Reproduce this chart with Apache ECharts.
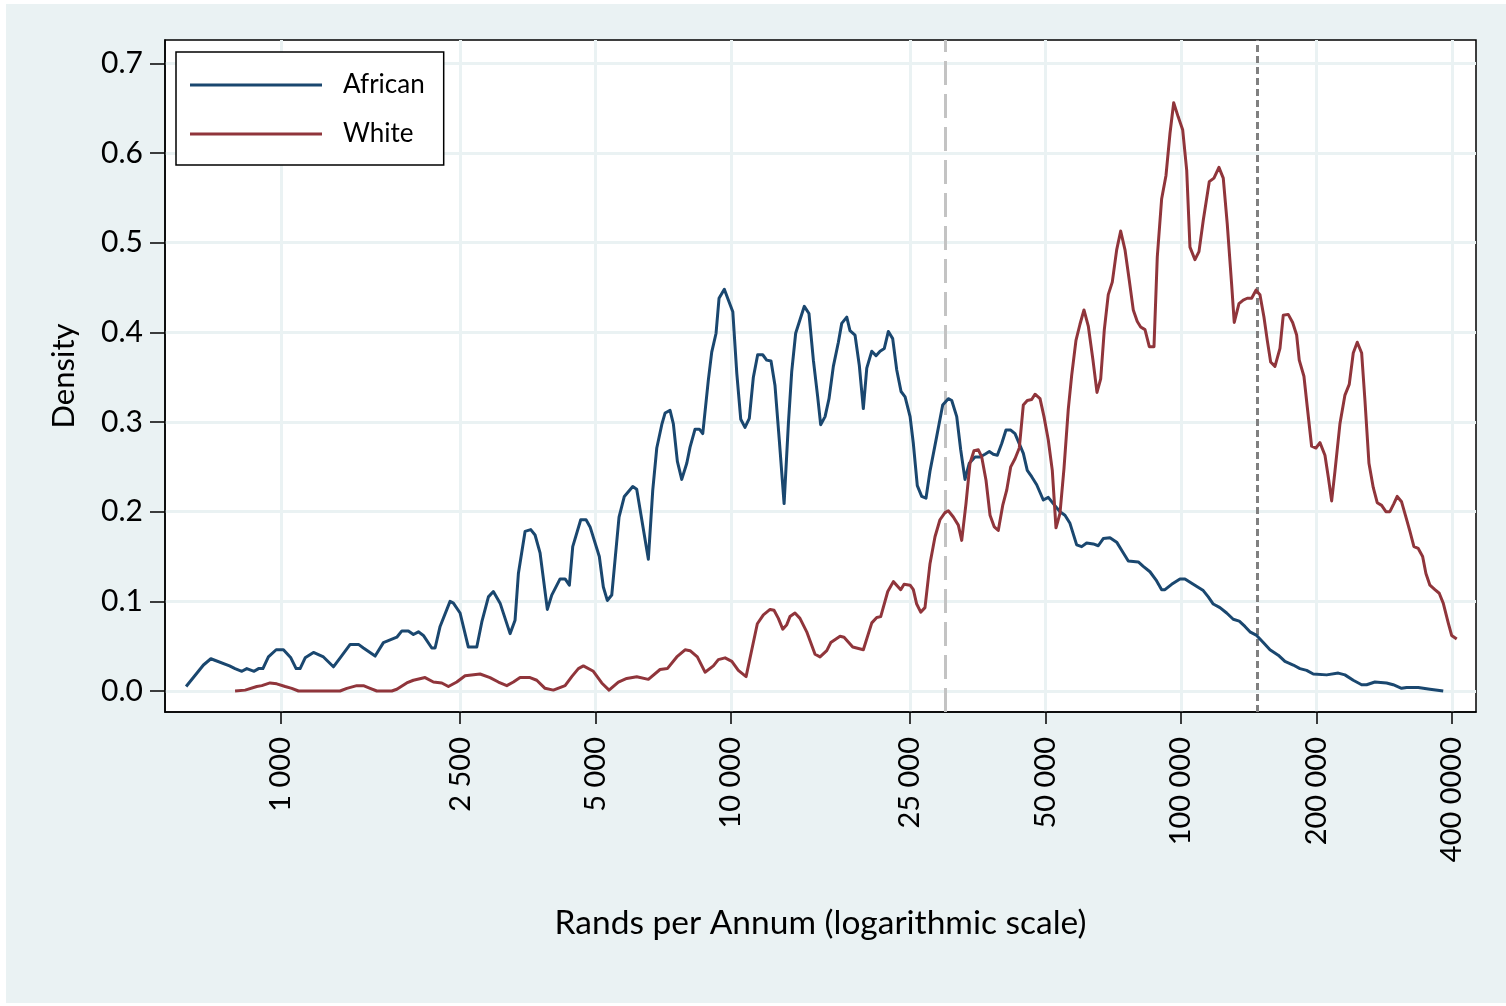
<!DOCTYPE html>
<html>
<head>
<meta charset="utf-8">
<title>Income density by population group</title>
<script src="https://cdn.jsdelivr.net/npm/echarts@6/dist/echarts.min.js"></script>
<style>
  html, body { margin: 0; padding: 0; background: #fff; }
  #chart { width: 1506px; height: 1006px; }
</style>
</head>
<body>
<div id="chart"></div>
<script>
// x axis ticks (rands, log scale) and their printed labels
const incomeTicks = [1000, 2500, 5000, 10000, 25000, 50000, 100000, 200000, 400000];
const incomeLabels = ['1 000', '2 500', '5 000', '10 000', '25 000', '50 000', '100 000', '200 000', '400 0000'];
const densityTicks = [0, 0.1, 0.2, 0.3, 0.4, 0.5, 0.6, 0.7];

// vertical reference lines (rands)
const refLines = [30000, 148000];

// [income, density]
const african = [
  [615,0.005],[672,0.029],[698,0.036],[768,0.028],[790,0.025],[818,0.022],[839,0.025],[871,0.022],
  [891,0.025],[911,0.025],[937,0.038],[975,0.046],[1012,0.046],[1051,0.037],[1080,0.025],[1102,0.025],
  [1131,0.037],[1180,0.043],[1242,0.038],[1307,0.027],[1358,0.038],[1424,0.052],[1486,0.052],[1524,0.048],
  [1618,0.039],[1688,0.054],[1747,0.057],[1808,0.060],[1855,0.067],[1918,0.067],[1968,0.063],[2019,0.066],
  [2071,0.062],[2162,0.048],[2199,0.048],[2256,0.072],[2374,0.100],[2415,0.098],[2499,0.087],[2607,0.049],
  [2722,0.049],[2793,0.077],[2889,0.105],[2963,0.111],[3067,0.098],[3228,0.064],[3311,0.079],[3368,0.131],
  [3485,0.178],[3588,0.180],[3668,0.174],[3763,0.154],[3906,0.091],[3995,0.107],[4169,0.125],[4277,0.125],
  [4372,0.118],[4448,0.161],[4634,0.191],[4762,0.191],[4861,0.183],[5096,0.150],[5202,0.116],[5309,0.101],
  [5431,0.107],[5637,0.194],[5792,0.217],[6047,0.228],[6171,0.225],[6550,0.147],[6699,0.224],[6838,0.271],
  [7015,0.297],[7134,0.310],[7319,0.313],[7444,0.298],[7598,0.256],[7770,0.236],[7973,0.254],[8108,0.272],
  [8318,0.292],[8504,0.292],[8652,0.287],[8904,0.347],[9059,0.378],[9262,0.399],[9404,0.438],[9662,0.448],
  [9863,0.436],[10090,0.423],[10300,0.354],[10510,0.303],[10740,0.294],[10980,0.304],[11210,0.350],[11460,0.375],
  [11760,0.375],[12000,0.369],[12270,0.368],[12520,0.341],[12800,0.280],[13120,0.209],[13410,0.298],[13640,0.356],
  [13920,0.399],[14230,0.414],[14550,0.429],[14900,0.421],[15240,0.369],[15580,0.328],[15820,0.297],[16180,0.306],
  [16510,0.326],[16880,0.362],[17320,0.389],[17620,0.410],[18080,0.417],[18380,0.402],[18860,0.397],[19280,0.363],
  [19680,0.315],[20030,0.360],[20550,0.379],[21000,0.374],[21440,0.379],[21910,0.382],[22370,0.401],[22870,0.393],
  [23350,0.358],[23870,0.334],[24370,0.328],[25000,0.306],[25420,0.276],[25940,0.229],[26530,0.217],[27120,0.215],
  [27680,0.245],[28650,0.284],[29540,0.319],[30400,0.326],[30940,0.324],[31740,0.306],[32390,0.269],[33110,0.236],
  [33850,0.254],[34850,0.261],[35750,0.261],[36680,0.264],[37500,0.267],[38270,0.264],[39070,0.263],[39960,0.276],
  [40840,0.291],[41840,0.291],[42770,0.287],[43870,0.274],[44630,0.265],[45540,0.246],[46580,0.239],[47790,0.230],
  [49430,0.213],[50710,0.216],[52020,0.209],[53840,0.200],[55230,0.196],[56660,0.187],[58640,0.163],[60160,0.161],
  [61710,0.165],[63840,0.164],[65490,0.162],[67190,0.170],[69540,0.171],[71960,0.166],[73820,0.157],[76370,0.145],
  [80370,0.144],[82450,0.139],[85320,0.133],[87980,0.124],[90590,0.113],[92130,0.113],[95340,0.119],[99490,0.125],
  [102070,0.125],[106490,0.119],[112090,0.112],[115000,0.105],[117970,0.097],[122080,0.093],[126340,0.087],[130670,0.080],
  [134760,0.078],[138730,0.072],[142330,0.066],[147290,0.062],[152380,0.054],[157690,0.046],[164510,0.040],[170240,0.033],
  [177650,0.029],[183830,0.025],[190240,0.023],[196790,0.019],[210810,0.018],[223680,0.020],[231440,0.018],[241500,0.012],
  [252080,0.007],[258600,0.007],[269790,0.010],[286410,0.009],[296260,0.007],[309250,0.003],[317320,0.004],[336770,0.004],
  [357520,0.002],[382720,0.000]
];

const white = [
  [790,0.000],[832,0.001],[883,0.005],[906,0.006],[945,0.009],[978,0.008],[1021,0.005],[1056,0.003],
  [1093,0.000],[1160,0.000],[1352,0.000],[1400,0.003],[1473,0.006],[1524,0.006],[1577,0.003],[1632,0.000],
  [1762,0.000],[1808,0.002],[1902,0.009],[1968,0.012],[2089,0.015],[2180,0.010],[2276,0.009],[2354,0.005],
  [2457,0.010],[2564,0.017],[2768,0.019],[2913,0.015],[3040,0.010],[3174,0.006],[3283,0.010],[3397,0.015],
  [3575,0.015],[3700,0.012],[3860,0.003],[4028,0.001],[4277,0.006],[4426,0.016],[4578,0.025],[4697,0.028],
  [4943,0.022],[5160,0.009],[5356,0.001],[5618,0.010],[5864,0.014],[6171,0.016],[6550,0.013],[6954,0.024],
  [7218,0.025],[7574,0.038],[7903,0.046],[8108,0.045],[8416,0.038],[8754,0.021],[9135,0.028],[9371,0.035],
  [9699,0.037],[10040,0.033],[10380,0.023],[10800,0.016],[11120,0.046],[11440,0.075],[11800,0.085],[12210,0.091],
  [12460,0.090],[12740,0.081],[13030,0.069],[13300,0.074],[13520,0.083],[13870,0.087],[14230,0.081],[14730,0.066],
  [15370,0.041],[15770,0.038],[16320,0.045],[16660,0.054],[17470,0.061],[17830,0.060],[18640,0.049],[19680,0.046],
  [20550,0.076],[21080,0.082],[21510,0.083],[22300,0.111],[22950,0.122],[23830,0.113],[24240,0.119],[25000,0.118],
  [25420,0.113],[25860,0.097],[26400,0.088],[26980,0.093],[27680,0.142],[28400,0.172],[29130,0.191],[29890,0.199],
  [30400,0.201],[31190,0.194],[32000,0.185],[32560,0.168],[33280,0.209],[33970,0.254],[34670,0.268],[35450,0.269],
  [36070,0.261],[36870,0.235],[37640,0.196],[38470,0.183],[39260,0.179],[40160,0.207],[40990,0.224],[41840,0.250],
  [42770,0.259],[43720,0.271],[44630,0.319],[45540,0.324],[46580,0.325],[47380,0.331],[48610,0.326],[49610,0.306],
  [50710,0.280],[51760,0.246],[52750,0.182],[53840,0.198],[54950,0.248],[56170,0.314],[57160,0.352],[58430,0.391],
  [59640,0.409],[60870,0.425],[62230,0.407],[63740,0.369],[65060,0.333],[66310,0.348],[67550,0.403],[68930,0.442],
  [70360,0.456],[71960,0.492],[73450,0.513],[75090,0.492],[76750,0.458],[78340,0.425],[79960,0.412],[81360,0.406],
  [83180,0.403],[85040,0.384],[87100,0.384],[88580,0.484],[90590,0.549],[92620,0.575],[94540,0.622],[96340,0.656],
  [98630,0.640],[100870,0.626],[102970,0.581],[104710,0.495],[107420,0.481],[109650,0.490],[112090,0.525],[115580,0.568],
  [118380,0.572],[121440,0.584],[124160,0.572],[126720,0.521],[129620,0.453],[131340,0.411],[134550,0.432],[137530,0.436],
  [140370,0.438],[143570,0.438],[146780,0.447],[149810,0.442],[152900,0.417],[155530,0.391],[158240,0.367],[161770,0.362],
  [165960,0.382],[168770,0.419],[173130,0.420],[177080,0.411],[180750,0.397],[183180,0.369],[187620,0.351],[190830,0.317],
  [195140,0.273],[199530,0.271],[203660,0.277],[208930,0.263],[212480,0.239],[216220,0.212],[219890,0.245],[225580,0.298],
  [231440,0.330],[236590,0.342],[241500,0.377],[246500,0.389],[252080,0.377],[256390,0.324],[261690,0.254],[267490,0.227],
  [273020,0.210],[279250,0.207],[285400,0.200],[291260,0.200],[297290,0.209],[302390,0.217],[309250,0.211],[316230,0.194],
  [322770,0.178],[329420,0.161],[336770,0.159],[344420,0.150],[350280,0.131],[357520,0.118],[366780,0.113],[374970,0.109],
  [382720,0.098],[392640,0.076],[399570,0.062],[410070,0.058]
];

const FONT = 'Lato';
const GRID_COLOR = '#eaf2f3';

function incomeLabel(v) {
  for (let i = 0; i < incomeTicks.length; i++) {
    if (Math.abs(incomeTicks[i] - v) / incomeTicks[i] < 1e-6) return incomeLabels[i];
  }
  return '';
}

const chart = echarts.init(document.getElementById('chart'));

const option = {
  animation: false,
  backgroundColor: '#fff',
  textStyle: { fontFamily: FONT, color: '#000' },
  graphic: [
    {
      type: 'rect',
      silent: true,
      z: -10,
      shape: { x: 6, y: 4, width: 1500, height: 999 },
      style: { fill: GRID_COLOR }
    }
  ],
  grid: {
    left: 165,
    right: 30,
    top: 40,
    bottom: 294,
    show: true,
    backgroundColor: '#fff',
    borderColor: '#000',
    borderWidth: 1.5
  },
  legend: {
    orient: 'vertical',
    left: 176,
    top: 52,
    padding: [20, 19, 18, 14],
    itemGap: 23,
    itemWidth: 132,
    itemHeight: 3,
    icon: 'rect',
    backgroundColor: '#fff',
    borderColor: '#000',
    borderWidth: 1.5,
    borderRadius: 0,
    textStyle: { fontFamily: FONT, fontSize: 26, color: '#000', padding: [0, 0, 0, 16] },
    data: ['African', 'White']
  },
  xAxis: {
    type: 'log',
    logBase: 10,
    min: 552,
    max: 452600,
    name: 'Rands per Annum (logarithmic scale)',
    nameLocation: 'middle',
    nameGap: 194,
    nameTextStyle: { fontFamily: FONT, fontSize: 33.5, color: '#000' },
    axisLine: { show: true, onZero: false, lineStyle: { color: '#000', width: 1.5 } },
    axisTick: { show: true, length: 12, customValues: incomeTicks, lineStyle: { color: '#000', width: 1.5 } },
    axisLabel: {
      customValues: incomeTicks,
      rotate: 90,
      margin: 25,
      fontFamily: FONT,
      fontSize: 29,
      color: '#000',
      formatter: incomeLabel
    },
    splitLine: { show: true, lineStyle: { color: GRID_COLOR, width: 3 } },
    minorTick: { show: false },
    minorSplitLine: { show: false }
  },
  yAxis: {
    type: 'value',
    min: -0.0234,
    max: 0.726,
    name: 'Density',
    nameLocation: 'middle',
    nameGap: 86,
    nameTextStyle: { fontFamily: FONT, fontSize: 31, color: '#000' },
    axisLine: { show: true, onZero: false, lineStyle: { color: '#000', width: 1.5 } },
    axisTick: { show: true, length: 15, customValues: densityTicks, lineStyle: { color: '#000', width: 1.5 } },
    axisLabel: {
      customValues: densityTicks,
      margin: 22,
      fontFamily: FONT,
      fontSize: 30,
      color: '#000',
      formatter: v => v.toFixed(1)
    },
    splitLine: { show: true, lineStyle: { color: GRID_COLOR, width: 3 } }
  },
  series: [
    {
      name: 'African',
      type: 'line',
      data: african,
      color: '#1a476f',
      symbol: 'none',
      showSymbol: false,
      lineStyle: { width: 3, color: '#1a476f', join: 'round' },
      z: 3,
      markLine: {
        silent: true,
        symbol: 'none',
        label: { show: false },
        z: 2,
        data: [
          { xAxis: refLines[0], lineStyle: { color: '#c3c3c3', width: 3, type: [24, 9] } },
          { xAxis: refLines[1], lineStyle: { color: '#808080', width: 3, type: [7, 4] } }
        ]
      }
    },
    {
      name: 'White',
      type: 'line',
      data: white,
      color: '#90353b',
      symbol: 'none',
      showSymbol: false,
      lineStyle: { width: 3, color: '#90353b', join: 'round' },
      z: 3
    }
  ]
};

chart.setOption(option);
</script>
</body>
</html>
